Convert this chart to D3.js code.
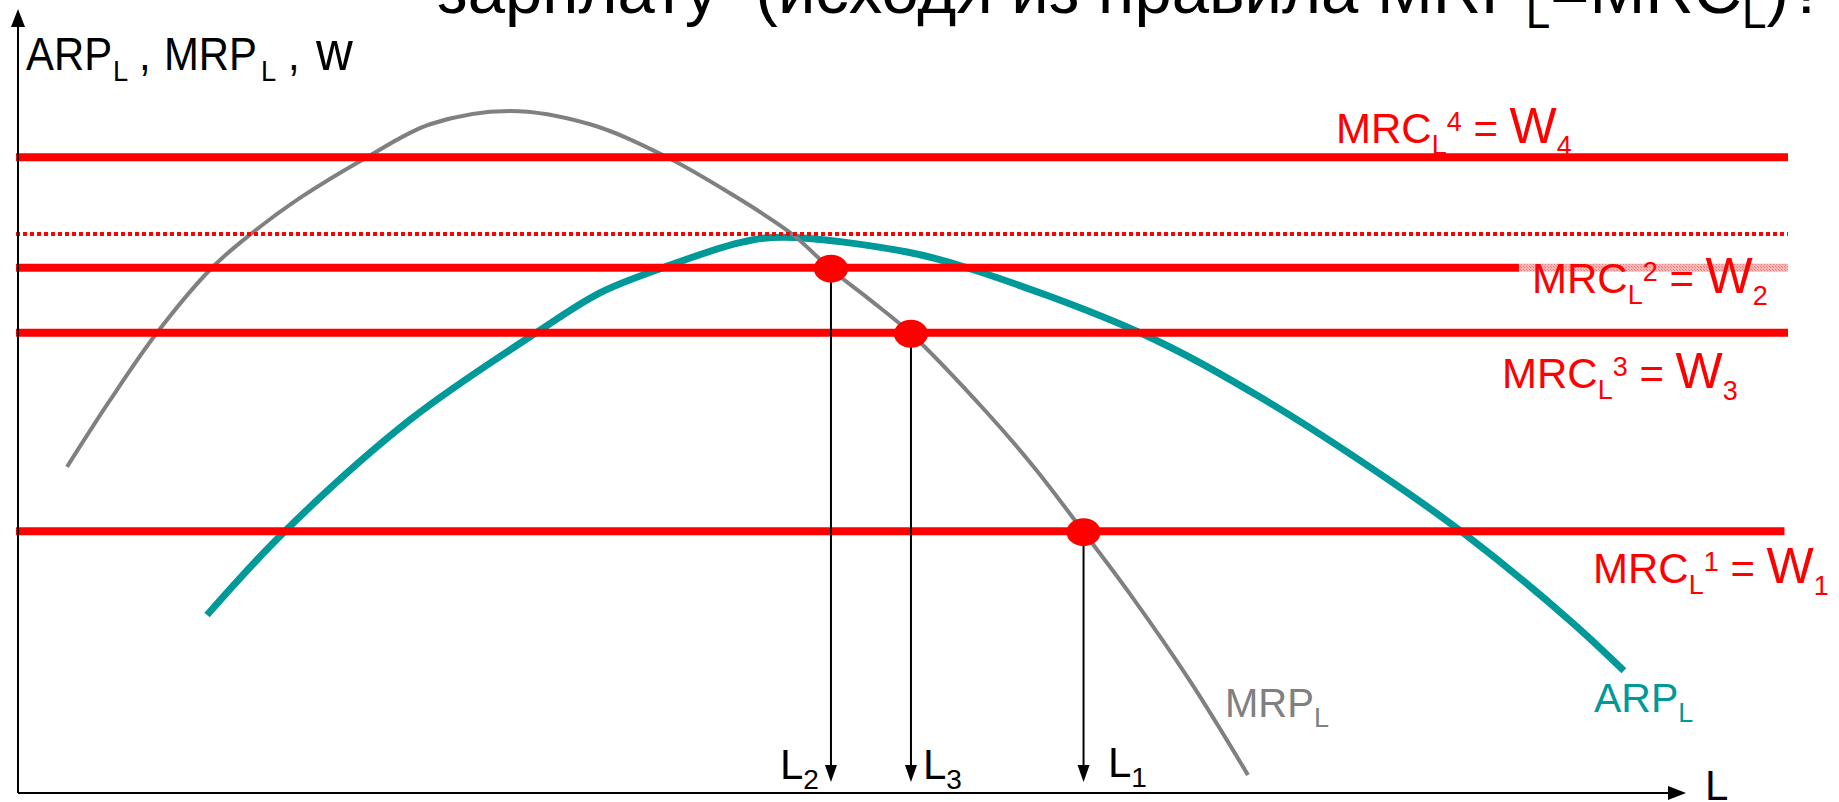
<!DOCTYPE html>
<html><head><meta charset="utf-8">
<script src="https://cdn.jsdelivr.net/npm/d3@7"></script>
<style>
html,body{margin:0;padding:0;background:#fff;overflow:hidden;}
svg{display:block;font-family:"Liberation Sans",Arial,sans-serif;}
text{white-space:pre;}
</style></head><body>
<svg id="chart" width="1839" height="802"></svg>
<script>
// ---------- data (schematic units: L on 0..100, value on 0..100) ----------
const wageIds     = ["1", "2", "3", "4"];
const wageLevels  = [33.4, 67.0, 58.7, 81.1];
const wageLineEnd = [99.8, 100, 100, 100];
const w2SolidEnd  = 84.8;
const dottedLevel = 71.3;

const mrpL = [2.77, 5.20, 7.85, 10.96, 13.16, 15.93, 19.72, 23.28, 27.80, 32.32, 36.67, 40.23, 43.73, 45.93, 48.14, 50.40, 54.75, 57.46, 60.17, 62.82, 66.21, 69.49];
const mrpV = [41.6, 50.1, 58.7, 67.0, 71.3, 75.9, 81.1, 85.3, 87.0, 85.3, 81.1, 76.5, 71.3, 66.8, 62.9, 58.7, 48.5, 41.4, 33.4, 25.4, 14.3, 2.3];

const arpL = [10.68, 15.08, 22.15, 29.27, 32.88, 36.44, 40.79, 43.22, 50.23, 53.62, 63.39, 70.17, 77.34, 81.86, 87.68, 90.73];
const arpV = [22.7, 33.4, 47.6, 58.7, 63.8, 67.0, 70.2, 70.9, 69.0, 67.0, 58.7, 50.5, 40.1, 32.8, 22.0, 15.6];

const eqIds = ["1", "2", "3"];
const eqL   = [60.2, 45.93, 50.45];
const eqW   = [33.4, 67.0, 58.7];

const titleText = "зарплату  (исходя из правила MRP";
const yLabel = ["ARP", "L", ",", "MRP", "L", ",", "w"];

// ---------- layout ----------
const svg = d3.select("#chart");
const x = d3.scaleLinear().domain([0, 100]).range([18, 1788]);
const y = d3.scaleLinear().domain([0, 100]).range([793, 9]);
const RED = "#ff0000", TEAL = "#009999", GRAY = "#808080";

function rich(parent, x0, y0, parts, color) {
  const t = parent.append("text").attr("x", x0).attr("y", y0).attr("fill", color);
  parts.forEach(p => {
    const s = t.append("tspan").attr("font-size", p.s).text(p.t);
    if (p.dy) s.attr("dy", p.dy);
    if (p.x !== undefined) s.attr("x", p.x);
  });
  return t;
}

// pattern for the faded part of W2
const defs = svg.append("defs");
const pat = defs.append("pattern").attr("id", "hatch").attr("width", 3).attr("height", 3)
  .attr("patternUnits", "userSpaceOnUse");
pat.append("rect").attr("width", 3).attr("height", 3).attr("fill", "#f7b4b4");
pat.append("rect").attr("width", 1).attr("height", 1).attr("fill", "#ee8080");
pat.append("rect").attr("x", 2).attr("y", 2).attr("width", 1).attr("height", 1).attr("fill", "#ee8080");

// title (cut off at top)
rich(svg, 437, 13, [
  {t: titleText, s: 67},
  {t: "L", s: 44, dy: 15},
  {t: "=MRC", s: 67, dy: -15},
  {t: "L", s: 44, dy: 15},
  {t: ")?", s: 67, dy: -15}
], "#000");

// curves
const line = d3.line().x(d => x(d[0])).y(d => y(d[1])).curve(d3.curveCatmullRom.alpha(0.5));
svg.append("path").datum(arpL.map((l, i) => [l, arpV[i]]))
  .attr("d", line).attr("fill", "none").attr("stroke", TEAL).attr("stroke-width", 7);
svg.append("path").datum(mrpL.map((l, i) => [l, mrpV[i]]))
  .attr("d", line).attr("fill", "none").attr("stroke", GRAY).attr("stroke-width", 4);

// wage lines
wageLevels.forEach((w, i) => {
  const end = wageIds[i] === "2" ? w2SolidEnd : wageLineEnd[i];
  svg.append("line").attr("x1", x(0) - 2).attr("x2", x(end)).attr("y1", y(w)).attr("y2", y(w))
    .attr("stroke", RED).attr("stroke-width", 8);
  if (wageIds[i] === "2") {
    svg.append("rect").attr("x", x(w2SolidEnd)).attr("y", y(w) - 4)
      .attr("width", x(wageLineEnd[i]) - x(w2SolidEnd)).attr("height", 8).attr("fill", "url(#hatch)");
  }
});
svg.append("line").attr("x1", x(0) - 2).attr("x2", x(100)).attr("y1", y(dottedLevel)).attr("y2", y(dottedLevel))
  .attr("stroke", RED).attr("stroke-width", 4).attr("stroke-dasharray", "4 3");

// axes
svg.append("line").attr("x1", 18).attr("x2", 18).attr("y1", y(0)).attr("y2", 22)
  .attr("stroke", "#000").attr("stroke-width", 2);
svg.append("path").attr("d", "M18,9 L11,27 L25,27 Z").attr("fill", "#000");
svg.append("line").attr("x1", 18).attr("x2", 1672).attr("y1", y(0)).attr("y2", y(0))
  .attr("stroke", "#000").attr("stroke-width", 2);
svg.append("path").attr("d", "M1686,793 L1668,786 L1668,800 Z").attr("fill", "#000");

// equilibrium arrows and dots
eqL.forEach((l, i) => {
  const px = x(l), py = y(eqW[i]), tip = y(0) - 11;
  svg.append("line").attr("x1", px).attr("x2", px).attr("y1", py).attr("y2", tip - 14)
    .attr("stroke", "#000").attr("stroke-width", 2);
  svg.append("path").attr("d", `M${px},${tip} L${px - 6},${tip - 17} L${px + 6},${tip - 17} Z`).attr("fill", "#000");
});
eqL.forEach((l, i) => {
  svg.append("ellipse").attr("cx", x(l)).attr("cy", y(eqW[i]) + 1).attr("rx", 17).attr("ry", 14).attr("fill", RED);
});

// L labels
const eqLabelPos = {"1": [1108, 777], "2": [780, 779], "3": [923, 779]};
eqIds.forEach(id => {
  const [lx, ly] = eqLabelPos[id];
  rich(svg, lx, ly, [{t: "L", s: 42}, {t: id, s: 28, dy: 10}], "#000");
});

// wage labels
const wageLabelPos = {"4": [1336, 143], "2": [1532, 293], "3": [1502, 388], "1": [1593, 583]};
wageIds.forEach(id => {
  const [lx, ly] = wageLabelPos[id];
  rich(svg, lx, ly, [
    {t: "MRC", s: 42},
    {t: "L", s: 27, dy: 11},
    {t: id, s: 27, dy: -23},
    {t: " = ", s: 42, dy: 12},
    {t: "W", s: 50},
    {t: id, s: 27, dy: 12}
  ], RED);
});

// axis labels
const yl = svg.append("g").attr("transform", "translate(26,70) scale(0.91,1)");
rich(yl, 0, 0, [
  {t: yLabel[0], s: 46},
  {t: yLabel[1], s: 30, dy: 11, x: 95.6},
  {t: yLabel[2], s: 46, dy: -11, x: 124.2},
  {t: yLabel[3], s: 46, x: 151.6},
  {t: yLabel[4], s: 30, dy: 11, x: 258.2},
  {t: yLabel[5], s: 46, dy: -11, x: 287.9},
  {t: yLabel[6], s: 56, x: 318.7}
], "#000");
rich(svg, 1705, 800, [{t: "L", s: 42}], "#000");
rich(svg, 1225, 717, [{t: "MRP", s: 40}, {t: "L", s: 27, dy: 10}], GRAY);
rich(svg, 1594, 712, [{t: "ARP", s: 41}, {t: "L", s: 27, dy: 10}], TEAL);
</script>
</body></html>
